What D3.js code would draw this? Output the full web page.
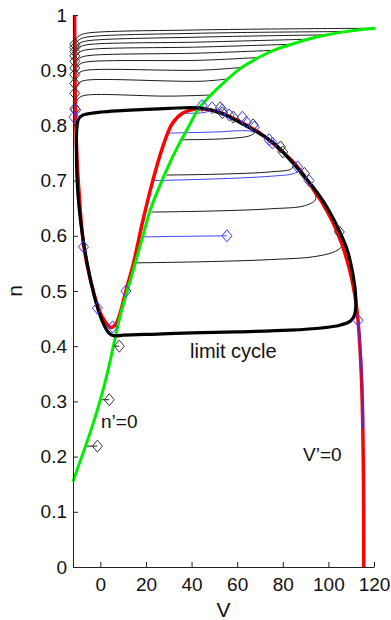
<!DOCTYPE html>
<html>
<head>
<meta charset="utf-8">
<script src="https://cdn.jsdelivr.net/npm/d3@7"></script>
<style>
  body { margin: 0; background: #fff; }
  svg text { font-family: "Liberation Sans", Arial, Helvetica, sans-serif; fill: #111; }
</style>
</head>
<body>
<svg id="chart" width="391" height="620"></svg>
<script>
// axis ticks
const vTicks = [0, 20, 40, 60, 80, 100, 120];
const nTicks = [0, 0.1, 0.2, 0.3, 0.4, 0.5, 0.6, 0.7, 0.8, 0.9, 1];
const nTickLabels = ['0', '0.1', '0.2', '0.3', '0.4', '0.5', '0.6', '0.7', '0.8', '0.9', '1'];

// V' = 0 (red), pairs of [V, n]
const vNullcline = [
  [-11.3, 1.0], [-11.2, 0.92], [-11.0, 0.84], [-10.6, 0.78], [-10.0, 0.72], [-9.2, 0.67],
  [-8.3, 0.62], [-7.2, 0.58], [-5.2, 0.535], [-2.8, 0.495], [-0.5, 0.465], [2.0, 0.445],
  [4.5, 0.434], [6.8, 0.44], [8.8, 0.462], [11.2, 0.5], [14.5, 0.55], [18.5, 0.625],
  [23, 0.70], [27.5, 0.763], [31.5, 0.803], [36, 0.822], [41, 0.829], [47, 0.829],
  [54, 0.821], [62, 0.805], [70, 0.786], [78, 0.759], [85, 0.732], [91, 0.699],
  [97, 0.662], [102, 0.624], [106, 0.584], [109.2, 0.54], [111.5, 0.495], [112.8, 0.455],
  [113.8, 0.40], [114.6, 0.33], [115.1, 0.25], [115.4, 0.15], [115.5, 0.05], [115.5, 0.0]
];

// n' = 0 (green)
const nNullcline = [
  [-12, 0.155], [-9, 0.19], [-6, 0.225], [-3, 0.262], [0, 0.303], [3, 0.35], [6.5, 0.415],
  [9, 0.46], [11.8, 0.5], [15.5, 0.553], [19, 0.605], [22, 0.648], [26, 0.69], [30, 0.728],
  [34, 0.762], [38, 0.792], [43, 0.83], [48, 0.853], [54, 0.877], [61, 0.902], [69, 0.922],
  [76, 0.936], [84, 0.947], [91, 0.956], [98, 0.963], [106, 0.969], [113, 0.973], [120.5, 0.976]
];

// thick closed orbit
const limitCycle = [
  [45, 0.831], [30, 0.831], [15, 0.828], [5, 0.826], [0, 0.824], [-4, 0.822], [-7.5, 0.819],
  [-9.5, 0.812], [-10.3, 0.795], [-10.5, 0.755], [-10.2, 0.70], [-9.3, 0.65], [-7.8, 0.60],
  [-5.8, 0.55], [-3.2, 0.50], [-0.5, 0.46], [2, 0.435], [4, 0.423], [6, 0.419], [10, 0.42],
  [25, 0.422], [40, 0.424], [60, 0.426], [83, 0.429], [97, 0.433], [105, 0.438], [109.5, 0.445],
  [111.3, 0.455], [112, 0.47], [111.8, 0.50], [110.3, 0.54], [108.3, 0.574], [104, 0.616],
  [98, 0.661], [91, 0.70], [83.3, 0.737], [76, 0.768], [67, 0.792], [60, 0.808], [53, 0.822]
];

// black trajectories started on n'=0 above the cycle (end = diamond)
const topRuns = [
  [[120.5, 0.976], [44, 0.973], [-6, 0.967], [-9, 0.963], [-10.6, 0.957], [-11.2, 0.947]],
  [[106.5, 0.970], [44, 0.967], [-6, 0.960], [-9, 0.956], [-10.6, 0.950], [-11.2, 0.941]],
  [[99, 0.964], [44, 0.960], [-6, 0.953], [-9, 0.949], [-10.6, 0.943], [-11.2, 0.934]],
  [[90, 0.956], [44, 0.951], [-6, 0.946], [-9, 0.942], [-10.6, 0.936], [-11.2, 0.926]],
  [[84, 0.947], [44, 0.942], [-6, 0.937], [-9, 0.933], [-10.6, 0.926], [-11.2, 0.916]],
  [[76, 0.936], [44, 0.931], [-6, 0.926], [-9, 0.922], [-10.6, 0.915], [-11.2, 0.904]],
  [[69.5, 0.923], [44, 0.918], [-6, 0.915], [-9, 0.911], [-10.6, 0.903], [-11.2, 0.892]],
  [[62, 0.905], [44, 0.900], [-6, 0.900], [-9, 0.896], [-10.6, 0.888], [-11.2, 0.876]],
  [[55.5, 0.884], [44, 0.880], [-6, 0.882], [-9, 0.878], [-10.6, 0.870], [-11.2, 0.858]],
  [[48, 0.855], [30, 0.853], [-6, 0.855], [-9, 0.851], [-10.6, 0.843], [-11.2, 0.830]]
];

// black trajectories started on n'=0 inside the cycle
const innerRuns = [
  [[15.4, 0.551], [45, 0.553], [75, 0.557], [95, 0.563], [104, 0.574], [106.8, 0.588], [104.8, 0.607]],
  [[22.5, 0.643], [50, 0.645], [75, 0.649], [90, 0.655], [94.5, 0.667], [92, 0.69], [89.5, 0.713]],
  [[29, 0.71], [55, 0.712], [75, 0.716], [84, 0.722], [84.5, 0.734], [80, 0.752]],
  [[35.5, 0.774], [55, 0.776], [66, 0.782], [68, 0.79], [62, 0.806], [58.3, 0.815]]
];

// short black runs low on n'=0
const lowRuns = [
  [[-6.4, 0.219], [-1.3, 0.219]],
  [[0, 0.303], [3.9, 0.303]],
  [[6.2, 0.40], [8.3, 0.40]]
];

// blue trajectories started on V'=0
const blueRuns = [
  [[18.2, 0.598], [35, 0.599], [55.5, 0.600]],
  [[23, 0.70], [50, 0.703], [75, 0.708], [85, 0.713], [87.5, 0.72], [86.5, 0.725]],
  [[29.5, 0.786], [50, 0.788], [65, 0.79], [71, 0.784], [74, 0.774]],
  [[36, 0.822], [45, 0.823], [50, 0.828], [53.5, 0.828]]
];

// blue run lying on the right branch of V'=0
const blueBranchRun = [[115.3, 0.25], [115.0, 0.32], [114.3, 0.38], [113.5, 0.425], [113, 0.447]];

// extra end markers
const blueMarks = [
  [-7.4, 0.58], [-1.3, 0.469], [5.4, 0.435], [11.2, 0.50], [-11.6, 0.815], [-10.8, 0.828],
  [44.6, 0.836], [49, 0.832], [56.5, 0.819], [62.3, 0.815], [64, 0.806], [67.5, 0.797], [75.5, 0.768],
  [91.5, 0.70]
];
const blackMarks = [[52.6, 0.832], [53.5, 0.823], [67, 0.801], [79, 0.761]];

const svg = d3.select('#chart');
const x = d3.scaleLinear().domain([-12, 120]).range([73, 374]);
const y = d3.scaleLinear().domain([0, 1]).range([567, 15]);

const line = d3.line()
  .x(d => x(d[0]))
  .y(d => y(d[1]))
  .curve(d3.curveCatmullRom.alpha(0.5));

const diamond = 'M0,-6L5,0L0,6L-5,0Z';

function drawRuns(runs, color, w) {
  svg.append('g').selectAll('path')
    .data(runs)
    .enter()
    .append('path')
    .attr('d', line)
    .attr('fill', 'none')
    .attr('stroke', color)
    .attr('stroke-width', w);
}

function drawMarks(points, color) {
  svg.append('g').selectAll('path')
    .data(points)
    .enter()
    .append('path')
    .attr('d', diamond)
    .attr('transform', d => 'translate(' + x(d[0]) + ',' + y(d[1]) + ')')
    .attr('fill', 'none')
    .attr('stroke', color)
    .attr('stroke-width', 1);
}

drawRuns(topRuns, '#000', 0.9);
drawRuns(innerRuns, '#000', 0.9);
drawRuns(lowRuns, '#000', 0.9);
drawRuns(blueRuns, '#2a2aff', 0.9);

svg.append('path')
  .attr('d', line(vNullcline))
  .attr('fill', 'none')
  .attr('stroke', '#ff0000')
  .attr('stroke-width', 3.5);

svg.append('path')
  .attr('d', line(nNullcline))
  .attr('fill', 'none')
  .attr('stroke', '#00ee00')
  .attr('stroke-width', 3);

svg.append('path')
  .attr('d', line(blueBranchRun))
  .attr('fill', 'none')
  .attr('stroke', '#3030ff')
  .attr('stroke-opacity', 0.6)
  .attr('stroke-width', 2.5);

svg.append('path')
  .attr('d', d3.line().x(d => x(d[0])).y(d => y(d[1])).curve(d3.curveCatmullRomClosed.alpha(0.5))(limitCycle))
  .attr('fill', 'none')
  .attr('stroke', '#000')
  .attr('stroke-width', 3.2);

drawMarks(topRuns.map(r => r[r.length - 1]), '#333');
drawMarks(innerRuns.map(r => r[r.length - 1]), '#333');
drawMarks(lowRuns.map(r => r[r.length - 1]), '#333');
drawMarks(blackMarks, '#333');
drawMarks(blueRuns.map(r => r[r.length - 1]), '#3a3aff');
drawMarks([blueBranchRun[blueBranchRun.length - 1]], '#3a3aff');
drawMarks(blueMarks, '#3a3aff');

// axes
const xAxis = svg.append('g')
  .attr('transform', 'translate(0,567)')
  .call(d3.axisBottom(x).tickValues(vTicks).tickSize(-5).tickSizeOuter(0).tickPadding(11));
const yAxis = svg.append('g')
  .attr('transform', 'translate(73,0)')
  .call(d3.axisLeft(y).tickValues(nTicks).tickFormat((d, i) => nTickLabels[i])
    .tickSize(-5).tickSizeOuter(0).tickPadding(6));

[xAxis, yAxis].forEach(a => {
  a.select('.domain').attr('stroke', '#222');
  a.selectAll('.tick line').attr('stroke', '#222');
  a.selectAll('.tick text').attr('font-size', 19).attr('fill', '#111');
});

svg.append('text')
  .attr('x', 223.5).attr('y', 617)
  .attr('text-anchor', 'middle')
  .attr('font-size', 21)
  .text('V');

svg.append('text')
  .attr('transform', 'translate(22,291) rotate(-90)')
  .attr('text-anchor', 'middle')
  .attr('font-size', 21)
  .text('n');

svg.append('text').attr('x', 190).attr('y', 358).attr('font-size', 20).text('limit cycle');
svg.append('text').attr('x', 101).attr('y', 428).attr('font-size', 19).text('n’=0');
svg.append('text').attr('x', 303).attr('y', 461).attr('font-size', 19).text('V’=0');
</script>
</body>
</html>
